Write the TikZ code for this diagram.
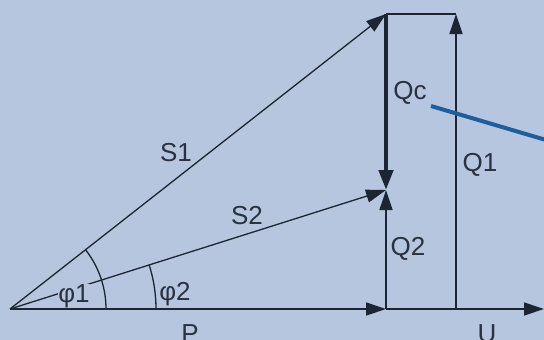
\documentclass[tikz,border=0pt]{standalone}
\usepackage{fontspec}
\setmainfont{Liberation Sans}
\usetikzlibrary{arrows.meta}
\definecolor{bgc}{HTML}{B5C6DE}
\definecolor{ink}{HTML}{1C2633}
\definecolor{txt}{HTML}{2A3140}
\definecolor{blu}{HTML}{1F5E9C}
\tikzset{
  vec/.style={draw=ink, line width=1.3pt, -{Triangle[length=20pt,width=13pt]}},
  plain/.style={draw=ink, line width=1.3pt},
  bold/.style={draw=ink, line width=4.5pt, -{Triangle[length=20pt,width=14pt]}},
  lbl/.style={text=txt, font=\fontsize{26pt}{28pt}\selectfont, inner sep=1pt},
  arcl/.style={draw=ink, line width=1.3pt}
}
\begin{document}
\begin{tikzpicture}[x=1pt,y=-1pt]
\fill[bgc] (0,0) rectangle (544,340);
\useasboundingbox (0,0) rectangle (544,340);
\coordinate (O) at (10,309);
\coordinate (A) at (386,309);
\coordinate (B) at (386,190);
\coordinate (C) at (386,14);
\coordinate (D) at (456,14);
\coordinate (E) at (456,309);
\coordinate (F) at (544,309);
\coordinate (Lb) at (431,106);
\coordinate (Le) at (546,140);
% angle arcs
\draw[arcl] ([xshift=96pt]O) arc[start angle=0, end angle=38.1, radius=96pt];
\draw[arcl] ([xshift=146pt]O) arc[start angle=0, end angle=17.6, radius=146pt];
% vectors
\draw[vec] (O) -- (A);
\draw[vec] (A) -- (F);
\draw[vec] (A) -- (B);
\draw[vec] (O) -- (B);
\draw[vec] (O) -- (C);
\draw[plain] (C) -- (D);
\draw[vec] (E) -- (D);
\draw[bold] (C) -- (B);
\draw[blu, line width=4pt] (Lb) -- (Le);
% labels
\node[lbl] (s1) at (176,153) {S1};
\node[lbl] (s2) at (247,216) {S2};
\node[lbl, fill=bgc, inner sep=0pt, anchor=base] (p1) at (74,302) {φ1};
\node[lbl, anchor=base] (p2) at (175,300) {φ2};
\node[lbl] (p) at (190,334) {P};
\node[lbl] (u) at (487,334) {U};
\node[lbl] (q1) at (480,165) {Q1};
\node[lbl] (q2) at (408,249) {Q2};
\node[lbl] (qc) at (410,93) {Qc};
\end{tikzpicture}
\end{document}
